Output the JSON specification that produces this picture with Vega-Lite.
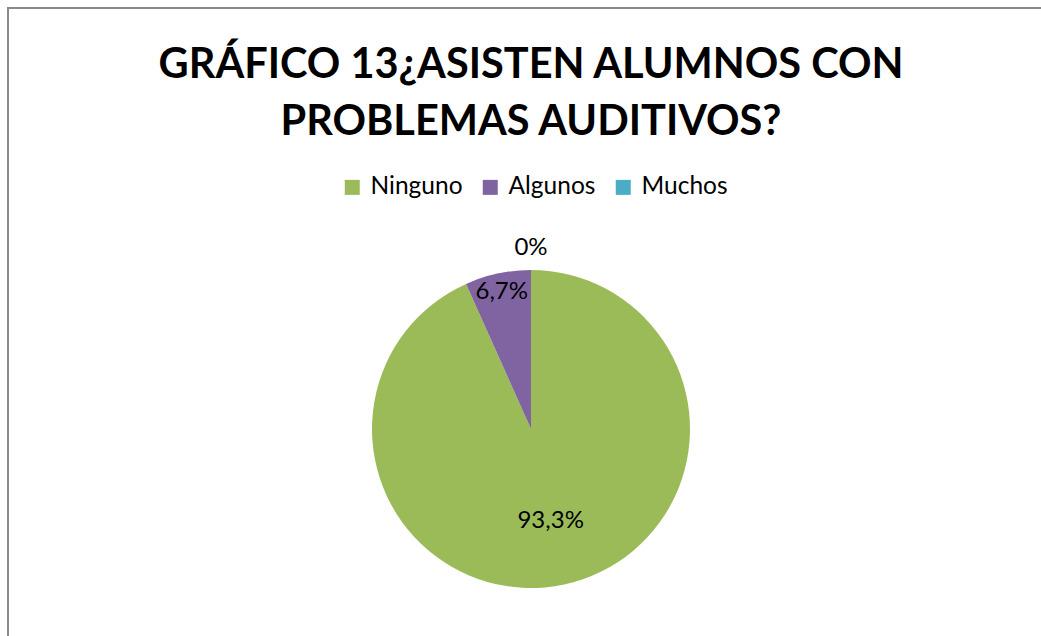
{
  "$schema": "https://vega.github.io/schema/vega-lite/v6.json",
  "autosize": {"type": "none"},
  "padding": {"left": 8, "top": 8, "right": -13, "bottom": -214},
  "width": 1046,
  "height": 842,
  "background": "white",
  "config": {
    "view": {"stroke": null},
    "font": "Lato"
  },
  "title": {
    "text": ["GRÁFICO 13¿ASISTEN ALUMNOS CON", "PROBLEMAS AUDITIVOS?"],
    "orient": "top",
    "anchor": "middle",
    "offset": -136,
    "font": "Lato",
    "fontSize": 41.5,
    "fontWeight": "bold",
    "color": "#000000",
    "lineHeight": 57
  },
  "data": {
    "values": [
      {"category": "Ninguno", "value": 93.3, "label": "93,3%", "idx": 1},
      {"category": "Algunos", "value": 6.7, "label": "6,7%", "idx": 2},
      {"category": "Muchos", "value": 0, "label": "0%", "idx": 3}
    ]
  },
  "layer": [
    {
      "mark": {"type": "rect", "fill": null, "filled": false, "stroke": "#8a8a8a", "strokeWidth": 2},
      "encoding": {}
    },
    {
      "mark": {"type": "arc", "outerRadius": 159, "strokeWidth": 0},
      "encoding": {
        "theta": {"field": "value", "type": "quantitative", "stack": true},
        "order": {"field": "idx", "type": "quantitative"},
        "color": {
          "field": "category",
          "type": "nominal",
          "scale": {"domain": ["Ninguno", "Algunos", "Muchos"], "range": ["#9BBB59", "#8064A2", "#4BACC6"]},
          "legend": {
            "title": null,
            "orient": "none",
            "legendX": 332,
            "legendY": 167,
            "direction": "horizontal",
            "symbolType": "square",
            "symbolSize": 225,
            "symbolStrokeWidth": 0,
            "labelFont": "Lato",
            "labelFontSize": 24.5,
            "labelColor": "#000000",
            "labelOffset": 6,
            "columnPadding": 15
          }
        }
      }
    },
    {
      "mark": {"type": "text", "radius": 94, "fontSize": 24, "font": "Lato", "color": "#000000"},
      "encoding": {
        "theta": {"field": "value", "type": "quantitative", "stack": true},
        "order": {"field": "idx", "type": "quantitative"},
        "text": {"condition": {"test": "datum.category === 'Ninguno'", "field": "label"}, "value": ""}
      }
    },
    {
      "mark": {"type": "text", "radius": 140, "fontSize": 24, "font": "Lato", "color": "#000000"},
      "encoding": {
        "theta": {"field": "value", "type": "quantitative", "stack": true},
        "order": {"field": "idx", "type": "quantitative"},
        "text": {"condition": {"test": "datum.category === 'Algunos'", "field": "label"}, "value": ""}
      }
    },
    {
      "mark": {"type": "text", "radius": 181, "fontSize": 24, "font": "Lato", "color": "#000000"},
      "encoding": {
        "theta": {"field": "value", "type": "quantitative", "stack": true},
        "order": {"field": "idx", "type": "quantitative"},
        "text": {"condition": {"test": "datum.category === 'Muchos'", "field": "label"}, "value": ""}
      }
    }
  ]
}
